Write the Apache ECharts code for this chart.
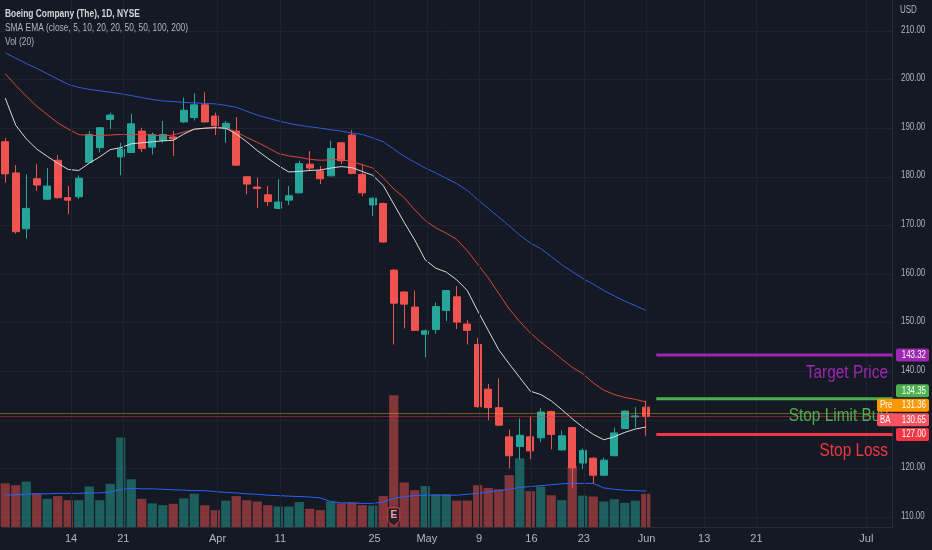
<!DOCTYPE html>
<html>
<head>
<meta charset="utf-8">
<script src="https://cdn.jsdelivr.net/npm/echarts@6/dist/echarts.min.js"></script>
<style>
  html, body { margin: 0; padding: 0; background: #151924; }
  #chart { width: 932px; height: 550px; }
</style>
</head>
<body>
<div id="chart"></div>
<script>
// BA daily, 4 Mar 2022 -> 1 Jun 2022
const dates = [
  '2022-03-04','2022-03-07','2022-03-08','2022-03-09','2022-03-10','2022-03-11','2022-03-14','2022-03-15','2022-03-16','2022-03-17',
  '2022-03-18','2022-03-21','2022-03-22','2022-03-23','2022-03-24','2022-03-25','2022-03-28','2022-03-29','2022-03-30','2022-03-31',
  '2022-04-01','2022-04-04','2022-04-05','2022-04-06','2022-04-07','2022-04-08','2022-04-11','2022-04-12','2022-04-13','2022-04-14',
  '2022-04-18','2022-04-19','2022-04-20','2022-04-21','2022-04-22','2022-04-25','2022-04-26','2022-04-27','2022-04-28','2022-04-29',
  '2022-05-02','2022-05-03','2022-05-04','2022-05-05','2022-05-06','2022-05-09','2022-05-10','2022-05-11','2022-05-12','2022-05-13',
  '2022-05-16','2022-05-17','2022-05-18','2022-05-19','2022-05-20','2022-05-23','2022-05-24','2022-05-25','2022-05-26','2022-05-27',
  '2022-05-31','2022-06-01'
];
const opens = [
  187.2,180.8,169.3,179.6,175.4,183.4,175.7,175.9,183.0,186.0,
  191.8,184.1,185.0,189.4,186.1,187.5,188.2,191.3,192.2,194.8,
  192.5,189.9,189.4,180.0,177.9,176.3,173.5,175.2,176.7,182.6,
  181.2,180.2,187.0,188.6,180.5,174.2,174.5,160.8,156.3,153.2,
  147.6,148.6,152.5,155.3,149.7,145.5,136.3,132.5,126.5,124.5,
  126.5,126.3,131.7,123.8,128.4,121.1,122.1,118.6,122.6,128.2,
  130.6,132.6
];
const closes = [
  180.6,168.7,173.5,178.3,178.1,175.7,175.2,179.7,188.7,190.1,
  192.7,185.7,190.9,185.8,188.7,188.7,187.8,193.7,194.8,191.3,
  190.5,191.0,182.4,178.5,177.6,174.9,174.8,176.1,182.7,181.8,
  179.6,185.8,183.3,180.7,176.7,175.6,166.6,154.0,153.8,148.4,
  148.3,153.3,156.6,150.1,148.4,132.7,132.5,128.9,122.6,126.8,
  123.6,131.6,127.0,126.7,120.1,123.7,118.6,121.7,127.3,131.8,
  130.8,130.65
];
const lows = [
  178.8,168.3,167.3,177.1,175.2,175.5,172.3,175.4,182.8,185.0,
  189.8,180.3,184.9,185.1,184.6,187.0,184.3,191.1,191.6,191.2,
  188.6,187.0,182.3,176.4,173.6,174.0,173.3,174.2,176.6,181.2,
  178.5,180.1,182.6,180.5,176.0,171.9,166.4,145.5,148.8,148.3,
  142.9,147.7,150.3,148.7,145.5,132.5,129.9,128.7,120.0,121.9,
  121.9,125.4,123.9,123.7,116.0,119.9,116.9,118.4,122.5,128.1,
  128.4,126.7
];
const highs = [
  188.0,182.4,180.5,182.6,181.8,184.5,178.1,180.3,189.4,190.2,
  193.2,187.0,192.9,190.1,189.1,191.5,189.4,196.3,197.2,197.4,
  193.2,191.5,192.3,180.1,179.8,178.1,179.5,178.1,183.3,185.3,
  182.2,187.4,187.1,189.6,182.6,175.7,174.7,161.0,156.4,156.6,
  148.6,154.1,156.7,157.5,150.5,146.8,137.4,138.5,128.0,130.3,
  130.6,132.4,131.9,127.8,128.5,124.1,122.3,122.2,128.4,131.9,
  132.6,133.9
];
// volume, millions
const volumes = [
  9.6,9.2,10.0,7.4,6.2,6.8,5.9,5.9,8.9,5.9,
  9.5,19.7,10.5,6.2,5.2,4.8,5.1,6.3,7.3,4.8,
  3.7,5.8,6.8,5.9,5.6,4.8,4.5,4.5,5.5,4.0,
  3.7,5.6,5.2,5.4,4.8,4.7,6.8,29.0,9.8,8.1,
  9.0,7.2,7.2,5.8,5.8,9.2,8.6,8.3,11.4,15.1,
  7.9,8.9,7.0,5.9,13.4,6.9,6.7,5.6,6.1,5.3,
  5.8,7.3
];
const volMa20 = [
  7.0,7.1,7.2,7.3,7.3,7.4,7.4,7.4,7.5,7.5,
  7.7,8.3,8.5,8.4,8.4,8.3,8.2,8.1,8.0,8.0,
  7.8,7.6,7.5,7.3,7.2,7.0,6.9,6.8,6.7,6.6,
  6.4,5.6,5.3,5.3,5.2,5.2,5.5,6.3,6.7,6.9,
  7.0,7.0,7.0,7.0,7.2,7.4,7.7,8.0,8.3,8.7,
  8.9,9.1,9.3,9.5,9.6,9.6,9.6,8.6,8.3,8.1,
  8.0,7.9
];
// moving averages as drawn (white / red / blue)
const maFast = [
  196.2,190.6,187.8,185.7,184.2,182.8,181.5,181.3,182.8,184.1,
  185.6,186.0,186.8,187.0,187.2,187.4,187.5,188.8,189.8,190.0,
  190.1,190.0,188.8,187.2,185.4,183.8,182.3,181.0,181.1,181.3,
  181.4,181.8,182.1,181.9,181.1,180.3,178.2,174.4,170.6,167.0,
  162.9,161.2,160.4,158.8,156.6,152.4,148.4,144.4,141.5,138.7,
  135.9,135.2,133.9,132.1,130.2,128.5,127.0,125.9,126.5,127.4,
  128.1,128.5
];
const maMid = [
  201.2,198.8,196.6,194.5,192.8,191.1,189.8,188.7,188.5,188.5,
  188.6,188.7,188.7,188.7,188.6,188.4,188.6,189.2,189.8,190.0,
  190.1,190.1,189.2,188.1,187.1,186.0,184.8,184.3,184.0,183.6,
  183.4,183.5,183.6,183.1,182.5,181.8,179.8,177.5,175.7,173.2,
  171.0,169.5,168.4,167.1,164.8,162.0,159.2,156.0,152.8,150.2,
  147.9,146.0,144.3,142.5,140.8,139.5,137.6,136.1,135.2,134.6,
  134.2,133.7
];
const maSlow = [
  205.5,204.4,203.3,202.3,201.2,200.1,199.0,198.4,198.0,197.7,
  197.4,197.1,196.7,196.3,195.9,195.6,195.5,195.3,195.2,195.1,
  195.0,194.7,194.3,193.5,192.7,192.1,191.5,191.0,190.6,190.3,
  190.0,189.7,189.4,189.0,188.7,188.0,187.2,185.7,184.2,183.0,
  181.8,180.8,179.7,178.6,177.2,175.3,173.5,171.7,169.9,168.0,
  166.4,165.2,163.6,161.9,160.5,159.1,157.9,156.6,155.5,154.4,
  153.5,152.5
];
// empty slots to the right of the last bar
const futureSlots = 23;
// time scale labels (bar index -> text)
const timeTickPos = [6, 11, 20, 26, 35, 40, 45, 50, 55, 61, 66.5, 71.5, 82];
const timeTickText = ['14', '21', 'Apr', '11', '25', 'May', '9', '16', '23', 'Jun', '13', '21', 'Jul'];
// price scale labels (130 is hidden behind the tags)
const priceTicks = [210, 200, 190, 180, 170, 160, 150, 140, 120, 110];
// order levels drawn on the right
const orderNames = ['Target Price', 'Stop Limit Buy', 'Stop Loss'];
const orderPrices = [143.32, 134.35, 127.00];
const orderStartBar = 62;
const prePrice = 131.36;
const lastPrice = 130.65;
const earningsBar = 37;

const UP = '#26a69a', DOWN = '#ef5350';
const FONT = "'Liberation Sans', Arial, sans-serif";
const orderColors = ['#9c27b0', '#4caf50', '#f23645'];

const cats = dates.concat(Array.from({ length: futureSlots }, (_, i) => 'f' + i));
const nCats = cats.length;
const candles = dates.map((d, i) => [opens[i], closes[i], lows[i], highs[i]]);
const volData = volumes.map((v, i) => ({
  value: v,
  itemStyle: { color: closes[i] >= opens[i] ? 'rgba(38,166,154,0.5)' : 'rgba(239,83,80,0.5)' }
}));

const chart = echarts.init(document.getElementById('chart'));

const option = {
  backgroundColor: '#151924',
  animation: false,
  grid: [
    { left: 0, right: 39.5, top: 31, bottom: 33 },   // price
    { left: 0, right: 39.5, top: 377, bottom: 23 },  // volume
    { left: 0, right: 39.5, top: 0, bottom: 23 }     // frame + time scale
  ],
  xAxis: [
    { type: 'category', gridIndex: 0, data: cats, show: false },
    { type: 'category', gridIndex: 1, data: cats, show: false },
    {
      type: 'value', gridIndex: 2, min: -0.5, max: nCats - 0.5, interval: 0.5,
      axisLine: { show: true, lineStyle: { color: '#2a2e39' } },
      axisTick: { show: false },
      splitLine: { show: false },
      axisLabel: {
        color: '#b2b5be', fontSize: 11, fontFamily: FONT, margin: 6,
        formatter: v => {
          const k = timeTickPos.indexOf(v);
          return k >= 0 ? timeTickText[k] : '';
        }
      }
    },
    { type: 'value', gridIndex: 0, min: -0.5, max: nCats - 0.5, show: false }
  ],
  yAxis: [
    {
      type: 'value', gridIndex: 0, min: 110, max: 210, interval: 10, position: 'right',
      axisLine: { show: false }, axisTick: { show: false }, axisLabel: { show: false },
      splitLine: { lineStyle: { color: '#1f2330', width: 1 } }
    },
    { type: 'value', gridIndex: 1, min: 0, max: 33, show: false },
    {
      type: 'value', gridIndex: 2, min: 0, max: 1, position: 'right',
      axisLine: { show: true, onZero: false, lineStyle: { color: '#2a2e39' } },
      axisTick: { show: false }, axisLabel: { show: false }, splitLine: { show: false }
    }
  ],
  series: [
    {
      type: 'line', xAxisIndex: 2, yAxisIndex: 2, data: [], silent: true, z: 0,
      markLine: {
        silent: true, symbol: 'none', label: { show: false },
        lineStyle: { color: '#1f2330', width: 1, type: 'solid' },
        data: timeTickPos.map(v => ({ xAxis: v }))
      }
    },
    {
      type: 'bar', xAxisIndex: 1, yAxisIndex: 1, data: volData, barWidth: '88%', z: 1
    },
    {
      type: 'line', xAxisIndex: 1, yAxisIndex: 1, data: volMa20, symbol: 'none', z: 2,
      lineStyle: { color: '#2962ff', width: 1 }
    },
    {
      type: 'candlestick', xAxisIndex: 0, yAxisIndex: 0, data: candles, barWidth: 7.5, z: 3,
      itemStyle: { color: UP, color0: DOWN, borderColor: UP, borderColor0: DOWN, borderWidth: 1 },
      markLine: {
        silent: true, symbol: 'none', label: { show: false },
        data: [
          { yAxis: prePrice, lineStyle: { color: 'rgba(255,152,0,0.45)', width: 1, type: 'solid' } },
          { yAxis: lastPrice, lineStyle: { color: 'rgba(242,54,69,0.45)', width: 1, type: 'solid' } }
        ]
      }
    },
    { type: 'line', xAxisIndex: 0, yAxisIndex: 0, data: maSlow, symbol: 'none', z: 4, lineStyle: { color: '#2f5bd8', width: 1 } },
    { type: 'line', xAxisIndex: 0, yAxisIndex: 0, data: maMid, symbol: 'none', z: 4, lineStyle: { color: '#d9473b', width: 1 } },
    { type: 'line', xAxisIndex: 0, yAxisIndex: 0, data: maFast, symbol: 'none', z: 4, lineStyle: { color: '#d8d8dc', width: 1 } }
  ].concat(orderPrices.map((p, k) => ({
    type: 'line', xAxisIndex: 3, yAxisIndex: 0, symbol: 'none', z: 5, silent: true,
    data: [[orderStartBar, p], [nCats - 0.5, p]],
    lineStyle: { color: orderColors[k], width: 3 }
  })))
};
chart.setOption(option);

// overlay texts and price tags, placed through the chart's own scales
const yOf = v => chart.convertToPixel({ yAxisIndex: 0 }, v);
const g = [];
function txt(x, y, s, fill, size, opts) {
  opts = opts || {};
  g.push({
    type: 'text', x: x, y: y, z: opts.z || 100, scaleX: opts.sx || 1,
    style: {
      text: s, fill: fill, fontSize: size, fontFamily: FONT,
      fontWeight: opts.bold ? 'bold' : 'normal',
      align: opts.align || 'left', verticalAlign: 'middle'
    }
  });
}

const legendLines = [
  ['Boeing Company (The), 1D, NYSE', '#d1d4dc', true],
  ['SMA EMA (close, 5, 10, 20, 20, 50, 50, 100, 200)', '#b2b5be', false],
  ['Vol (20)', '#b2b5be', false]
];
legendLines.forEach((l, k) => txt(5, 14.5 + k * 13.8, l[0], l[1], 10.5, { bold: l[2], sx: 0.8 }));
txt(900, 10, 'USD', '#b2b5be', 10, { sx: 0.8 });

priceTicks.forEach(v => txt(901, yOf(v) - 1.5, v.toFixed(2), '#b2b5be', 11, { sx: 0.72 }));

const textDy = [18, 18, 17];
orderNames.forEach((name, k) =>
  txt(888, yOf(orderPrices[k]) + textDy[k], name, orderColors[k], 17.5, { align: 'right', sx: 0.88, z: 50 }));

function tag(y, bg, label, prefix) {
  const x0 = prefix ? 877 : 896, w = 929 - x0;
  g.push({ type: 'rect', z: 60, shape: { x: x0, y: y - 6.5, width: w, height: 13, r: 2 }, style: { fill: bg } });
  if (prefix) txt(x0 + 3, y, prefix, '#ffffff', 11, { sx: 0.72, z: 61 });
  txt(926, y, label, '#ffffff', 11, { align: 'right', sx: 0.72, z: 61 });
}
tag(yOf(orderPrices[0]), orderColors[0], orderPrices[0].toFixed(2));
tag(yOf(orderPrices[1]) - 8, orderColors[1], orderPrices[1].toFixed(2));
tag(yOf(prePrice) - 8, '#ff9800', prePrice.toFixed(2), 'Pre');
tag(yOf(lastPrice) + 3, '#f7525f', lastPrice.toFixed(2), 'BA');
tag(yOf(orderPrices[2]), orderColors[2], orderPrices[2].toFixed(2));

// earnings badge
const ex = chart.convertToPixel({ xAxisIndex: 1 }, earningsBar);
g.push({
  type: 'polygon', z: 40,
  shape: { points: [[ex - 6, 508], [ex + 6, 508], [ex + 6, 521], [ex, 526], [ex - 6, 521]] },
  style: { fill: '#2a1f27', stroke: '#c2414a', lineWidth: 1 }
});
txt(ex, 515, 'E', '#e8a0a6', 10, { bold: true, align: 'center', z: 41 });

chart.setOption({ graphic: g });
</script>
</body>
</html>
